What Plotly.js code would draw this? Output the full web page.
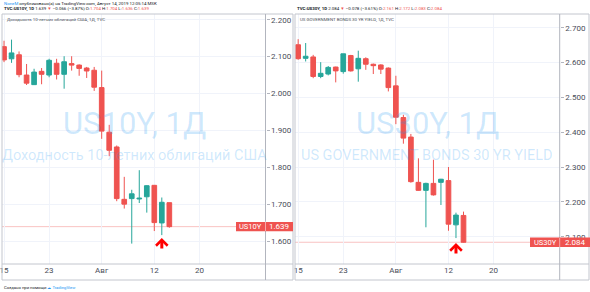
<!DOCTYPE html>
<html>
<head>
<meta charset="utf-8">
<script src="https://cdn.plot.ly/plotly-3.0.1.min.js"></script>
<style>html,body{margin:0;padding:0;background:#fff;}#chart{width:590px;height:292px;}</style>
</head>
<body>
<div id="chart"></div>
<script>
// ---- data ----
const dates = ['2019-07-15','2019-07-16','2019-07-17','2019-07-18','2019-07-19',
  '2019-07-22','2019-07-23','2019-07-24','2019-07-25','2019-07-26',
  '2019-07-29','2019-07-30','2019-07-31','2019-08-01','2019-08-02',
  '2019-08-05','2019-08-06','2019-08-07','2019-08-08','2019-08-09',
  '2019-08-12','2019-08-13','2019-08-14'];

const us10Open  = [2.127,2.094,2.105,2.050,2.024,2.060,2.050,2.082,2.052,2.081,2.077,2.069,2.063,2.016,1.895,1.855,1.713,1.715,1.714,1.720,1.751,1.649,1.704];
const us10High  = [2.143,2.146,2.114,2.080,2.067,2.069,2.094,2.094,2.101,2.101,2.079,2.072,2.072,2.062,1.915,1.859,1.774,1.739,1.792,1.751,1.752,1.718,1.704];
const us10Low   = [2.085,2.083,2.044,2.023,2.023,2.025,2.044,2.038,2.013,2.062,2.048,2.042,2.007,1.877,1.830,1.708,1.688,1.593,1.703,1.677,1.627,1.616,1.636];
const us10Close = [2.091,2.110,2.051,2.028,2.058,2.052,2.090,2.052,2.086,2.077,2.068,2.061,2.017,1.898,1.846,1.715,1.700,1.728,1.716,1.750,1.650,1.705,1.639];

const us30Open  = [2.651,2.612,2.616,2.560,2.567,2.587,2.574,2.620,2.582,2.611,2.595,2.593,2.584,2.533,2.442,2.386,2.256,2.233,2.253,2.256,2.261,2.134,2.161];
const us30High  = [2.667,2.656,2.622,2.601,2.590,2.588,2.625,2.622,2.634,2.615,2.597,2.595,2.586,2.562,2.450,2.395,2.325,2.255,2.321,2.266,2.300,2.169,2.172];
const us30Low   = [2.608,2.603,2.555,2.555,2.563,2.543,2.568,2.574,2.545,2.579,2.567,2.567,2.517,2.423,2.367,2.255,2.232,2.127,2.218,2.191,2.117,2.096,2.083];
const us30Close = [2.611,2.618,2.560,2.569,2.586,2.576,2.625,2.576,2.612,2.595,2.591,2.581,2.528,2.443,2.383,2.258,2.233,2.253,2.220,2.265,2.136,2.162,2.084];

const tickDates  = ['2019-07-15','2019-07-23','2019-08-01','2019-08-12','2019-08-20'];
const tickLabels = ['15','23','Авг','12','20'];
const signalDate = '2019-08-13';

// trading-day index (weekends skipped, as on the TradingView time scale)
function tradingIndex(d) {
  const start = new Date(dates[0] + 'T00:00:00Z');
  const end = new Date(d + 'T00:00:00Z');
  let n = 0;
  for (let t = new Date(start); t < end; t.setUTCDate(t.getUTCDate() + 1)) {
    const wd = t.getUTCDay();
    if (wd !== 0 && wd !== 6) n++;
  }
  return n;
}
const xIdx = dates.map(tradingIndex);
const tickIdx = tickDates.map(tradingIndex);
const sigIdx = tradingIndex(signalDate);
const sigPos = dates.indexOf(signalDate);

const UP = '#26a69a', DOWN = '#ef5350';
const GRID = '#f0f3fa', BORDER = '#c3c6ce', AXIS = '#b2b5be';
const TXT = '#4a4e59';
const FONT = 'Roboto, "Liberation Sans", Arial, sans-serif';

function candle(o,h,l,c,xa,ya){
  return {type:'candlestick', x:xIdx, open:o, high:h, low:l, close:c,
    xaxis:xa, yaxis:ya, hoverinfo:'none', whiskerwidth:0,
    increasing:{line:{color:UP,width:1}, fillcolor:UP},
    decreasing:{line:{color:DOWN,width:1}, fillcolor:DOWN}};
}
const traces = [
  candle(us10Open,us10High,us10Low,us10Close,'x','y'),
  candle(us30Open,us30High,us30Low,us30Close,'x2','y2')
];

const W = 590, H = 292;
const px = v => v / W, py = v => 1 - v / H;

function xax(d0,d1,r0,r1,anchor){
  return {domain:[px(d0),px(d1)], range:[r0,r1], anchor:anchor, type:'linear',
    tickvals:tickIdx, ticktext:tickLabels, showgrid:true, gridcolor:GRID, gridwidth:1,
    zeroline:false, showline:false, ticks:'', rangeslider:{visible:false},
    ticklabeloverflow:'allow',
    tickfont:{family:FONT,size:8,color:TXT}, fixedrange:true};
}
function yax(r0,r1,anchor){
  return {domain:[py(264),py(14)], range:[r0,r1], anchor:anchor, side:'right',
    dtick:0.1, tick0:0, tickformat:'.3f', showgrid:true, gridcolor:GRID, gridwidth:1,
    zeroline:false, showline:false, ticks:'outside', ticklen:3, tickcolor:AXIS,
    tickfont:{family:FONT,size:8,color:TXT}, fixedrange:true};
}

const lastL = us10Close[us10Close.length-1];
const lastR = us30Close[us30Close.length-1];

function line(x0,y0,x1,y1,c,w){
  return {type:'line', xref:'paper', yref:'paper', x0:px(x0), y0:py(y0), x1:px(x1), y1:py(y1),
    line:{color:c||BORDER, width:w||1}, layer:'above'};
}
const shapes = [
  // price lines
  {type:'line', xref:'x', yref:'y', x0:-1, x1:40, y0:lastL, y1:lastL, line:{color:'rgba(239,83,80,0.35)',width:1}, layer:'below'},
  {type:'line', xref:'x2', yref:'y2', x0:-1, x1:40, y0:lastR, y1:lastR, line:{color:'rgba(239,83,80,0.35)',width:1}, layer:'below'},
  // panel frames
  line(2,14,293,14), line(2,14,2,280), line(2,280,293,280), line(293,14,293,280),
  line(2,264,293,264), line(265.5,14,265.5,280, AXIS),
  line(295,14,589,14), line(295,14,295,280), line(295,280,589,280), line(589,14,589,280),
  line(295,264,589,264), line(559.7,14,559.7,280, AXIS),
  // price label boxes
  {type:'rect', xref:'paper', yref:'y', ysizemode:'pixel', yanchor:lastL, y0:-4.7, y1:4.7,
   x0:px(236), x1:px(293), fillcolor:DOWN, line:{width:0}, layer:'above'},
  {type:'rect', xref:'paper', yref:'y2', ysizemode:'pixel', yanchor:lastR, y0:-4.7, y1:4.7,
   x0:px(530), x1:px(590), fillcolor:DOWN, line:{width:0}, layer:'above'},
  line(265.5,221.5,265.5,231,'rgba(255,255,255,0.5)'),
  line(559.7,238,559.7,247.5,'rgba(255,255,255,0.5)')
];

const WM = 'rgba(33,150,243,0.22)';
const red = s => '<span style="color:#ef5350">' + s + '</span>';
function txt(x,y,t,size,color,anchor,extra){
  return Object.assign({xref:'paper', yref:'paper', x:px(x), y:py(y), text:t, showarrow:false,
    xanchor:anchor||'left', yanchor:'middle', font:{family:FONT,size:size,color:color}}, extra||{});
}
const annotations = [
  // watermarks
  txt(134,124,'US10Y, 1Д',31,WM,'center'),
  txt(134,155.5,'Доходность 10-летних облигаций США',14.5,WM,'center'),
  txt(427,124,'US30Y, 1Д',31,WM,'center'),
  txt(427,155.5,'US GOVERNMENT BONDS 30 YR YIELD',14.5,WM,'center'),
  // header
  txt(2,3.5,'<span style="color:#2196f3">NoneM</span> опубликовано(а) на TradingView.com, Август 14, 2019 12:05:14 MSK',4.4,'#131722'),
  txt(2,9.5,'<b>TVC:US10Y, 1D</b> 1.639 ' + red('▼') + ' −0.066 (−3.87%) O:' + red('1.704') + ' H:' + red('1.704') + ' L:' + red('1.636') + ' C:' + red('1.639'),4.4,'#131722'),
  txt(295,9.5,'<b>TVC:US30Y, 1D</b> 2.084 ' + red('▼') + ' −0.078 (−3.61%) O:' + red('2.161') + ' H:' + red('2.172') + ' L:' + red('2.083') + ' C:' + red('2.084'),4.4,'#131722'),
  // panel legends
  txt(5,19,'Доходность 10-летних облигаций США, 1Д, TVC',4.4,'#4a4e59'),
  txt(298,19,'US GOVERNMENT BONDS 30 YR YIELD, 1Д, TVC',4.4,'#4a4e59'),
  // footer
  txt(2,287,'Создано при помощи <span style="color:#2196f3">☁ TradingView</span>',4.2,'#131722'),
  // price labels
  {xref:'paper', yref:'y', x:px(250.5), y:lastL, text:'US10Y', showarrow:false, xanchor:'center', yanchor:'middle',
   font:{family:FONT,size:7.5,color:'#fff'}},
  {xref:'paper', yref:'y', x:px(279), y:lastL, text:lastL.toFixed(3), showarrow:false, xanchor:'center', yanchor:'middle',
   font:{family:FONT,size:8,color:'#fff'}},
  {xref:'paper', yref:'y2', x:px(545), y:lastR, text:'US30Y', showarrow:false, xanchor:'center', yanchor:'middle',
   font:{family:FONT,size:7.5,color:'#fff'}},
  {xref:'paper', yref:'y2', x:px(575), y:lastR, text:lastR.toFixed(3), showarrow:false, xanchor:'center', yanchor:'middle',
   font:{family:FONT,size:8,color:'#fff'}},
  // signal arrows
  {xref:'x', yref:'y', x:sigIdx, y:us10Low[sigPos], text:'', showarrow:true, ax:0, ay:15, standoff:3,
   arrowhead:4, arrowsize:0.75, arrowwidth:3, arrowcolor:'#f00'},
  {xref:'x2', yref:'y2', x:sigIdx, y:us30Low[sigPos], text:'', showarrow:true, ax:0, ay:17, standoff:5,
   arrowhead:4, arrowsize:0.75, arrowwidth:3, arrowcolor:'#f00'}
];

const layout = {
  width:W, height:H, margin:{l:0,r:0,t:0,b:0,pad:0},
  paper_bgcolor:'#fff', plot_bgcolor:'#fff', showlegend:false,
  boxgap:0.38, boxgroupgap:0,
  xaxis: xax(2,265.5,-0.27,34.8,'y'),
  yaxis: yax(1.5377,2.2155,'x'),
  xaxis2: xax(295,559.7,-0.42,34.8,'y2'),
  yaxis2: yax(2.0216,2.7393,'x2'),
  shapes:shapes, annotations:annotations,
  font:{family:FONT}
};

Plotly.newPlot('chart', traces, layout, {staticPlot:true, displayModeBar:false});
</script>
</body>
</html>
